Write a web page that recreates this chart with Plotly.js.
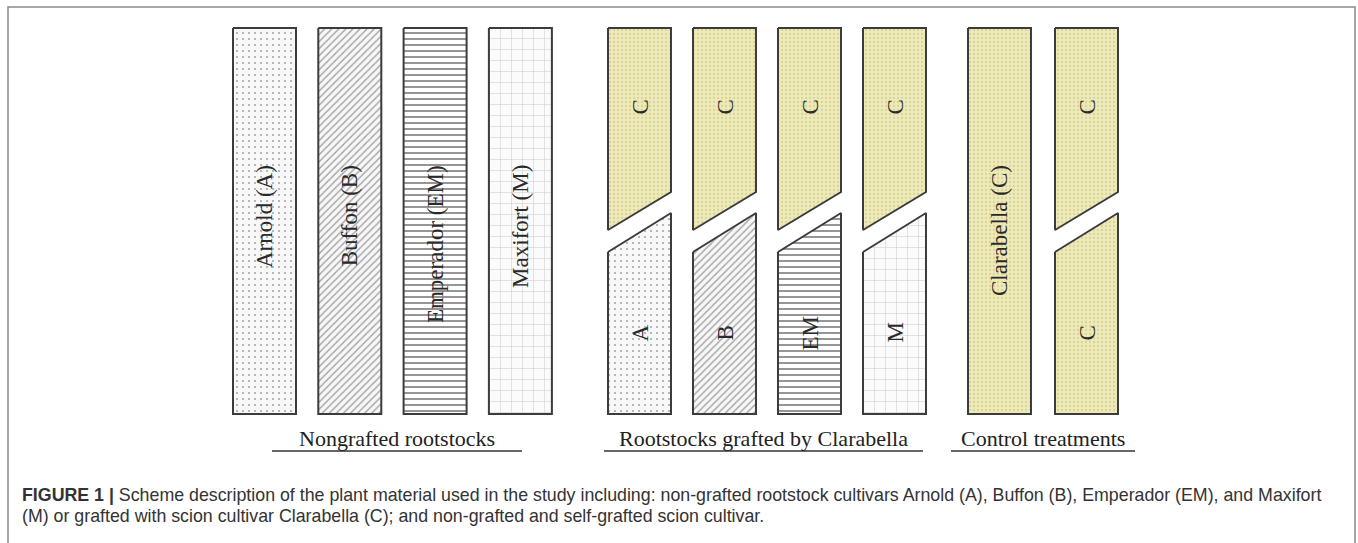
<!DOCTYPE html>
<html><head><meta charset="utf-8">
<script src="https://cdn.plot.ly/plotly-3.0.1.min.js"></script>
<style>html,body{margin:0;padding:0;background:#fff;overflow:hidden}#chart{width:1358px;height:543px}</style>
</head><body><div id="chart"></div>
<script>
// ---------- data ----------
const rootstockNames = ["Arnold (A)", "Buffon (B)", "Emperador (EM)", "Maxifort (M)"];
const rootstockCodes = ["A", "B", "EM", "M"];
const rootstockPatterns = [".", "/", "-", "+"];
const scionName = "Clarabella (C)";
const scionCode = "C";
const groupTitles = ["Nongrafted rootstocks", "Rootstocks grafted by Clarabella", "Control treatments"];
const captionLead = "FIGURE 1 |";
const captionLines = [
  "Scheme description of the plant material used in the study including: non-grafted rootstock cultivars Arnold (A), Buffon (B), Emperador (EM), and Maxifort",
  "(M) or grafted with scion cultivar Clarabella (C); and non-grafted and self-grafted scion cultivar."
];

// ---------- layout constants ----------
const W = 1358, H = 543;
const colW = 63, topY = 28, botY = 414;
const groupStart = [233, 608, 968], groupStep = [85.3, 85, 87];
const cutTopL = 230, cutTopR = 192, cutBotL = 252, cutBotR = 213;
const labelTopY = 163, upperCodeY = 107, lowerCodeY = 333;
const groupLabelY = 438, underlineY = 451;
const underlines = [[272, 522], [604, 923], [951, 1135]];
const outline = {color: "#3c3c3c", width: 2};
const serif = "Liberation Serif, Times New Roman, serif";
const sans = "Liberation Sans, Arial, sans-serif";

const patternStyle = {
  ".": {shape: ".", fgcolor: "#a8a8a8", bgcolor: "#f8f8f8", size: 6, solidity: 0.1},
  "/": {shape: "/", fgcolor: "#a2a2a2", bgcolor: "#f7f7f7", size: 5, solidity: 0.28},
  "-": {shape: "-", fgcolor: "#8a8a8a", bgcolor: "#ffffff", size: 6, solidity: 0.3},
  "+": {shape: "+", fgcolor: "#cdcdcd", bgcolor: "#fbfbfb", size: 11, solidity: 0.1}
};
const scionStyle = {shape: ".", fgcolor: "#d9d49c", bgcolor: "#efebb8", size: 4, solidity: 0.25};

const traces = [], annotations = [], shapes = [];

function poly(xs, ys, pat) {
  traces.push({
    type: "scatter", mode: "lines", x: xs, y: ys, fill: "toself",
    fillcolor: pat.bgcolor, fillpattern: Object.assign({fillmode: "replace"}, pat),
    line: outline, hoverinfo: "skip", showlegend: false
  });
}
function rect(L, pat) {
  const R = L + colW;
  poly([L, R, R, L, L], [topY, topY, botY, botY, topY], pat);
}
function upperPiece(L, pat) {
  const R = L + colW;
  poly([L, R, R, L, L], [topY, topY, cutTopR, cutTopL, topY], pat);
}
function lowerPiece(L, pat) {
  const R = L + colW;
  poly([L, R, R, L, L], [cutBotL, cutBotR, botY, botY, cutBotL], pat);
}
function vlabel(x, y, text, anchor) {
  annotations.push({x: x, y: y, xref: "x", yref: "y", text: text, showarrow: false,
    textangle: -90, xanchor: "center", yanchor: anchor,
    font: {family: serif, size: 23, color: "#2a2a2a"}});
}

// Group 1: nongrafted rootstocks
rootstockNames.forEach((name, i) => {
  const L = groupStart[0] + i * groupStep[0];
  rect(L, patternStyle[rootstockPatterns[i]]);
  vlabel(L + colW / 2, labelTopY, name, "top");
});
// Group 2: rootstocks grafted by Clarabella
rootstockCodes.forEach((code, i) => {
  const L = groupStart[1] + i * groupStep[1];
  upperPiece(L, scionStyle);
  lowerPiece(L, patternStyle[rootstockPatterns[i]]);
  vlabel(L + colW / 2, upperCodeY, scionCode, "middle");
  vlabel(L + colW / 2, lowerCodeY, code, "middle");
});
// Group 3: control treatments
{
  const L0 = groupStart[2];
  rect(L0, scionStyle);
  vlabel(L0 + colW / 2, labelTopY, scionName, "top");
  const L1 = groupStart[2] + groupStep[2];
  upperPiece(L1, scionStyle);
  lowerPiece(L1, scionStyle);
  vlabel(L1 + colW / 2, upperCodeY, scionCode, "middle");
  vlabel(L1 + colW / 2, lowerCodeY, scionCode, "middle");
}

// Group titles and underlines
groupTitles.forEach((t, i) => {
  const [a, b] = underlines[i];
  annotations.push({x: (a + b) / 2, y: groupLabelY, xref: "x", yref: "y", text: t, showarrow: false,
    xanchor: "center", yanchor: "middle", font: {family: serif, size: 22, color: "#222"}});
  shapes.push({type: "line", xref: "x", yref: "y", x0: a, x1: b, y0: underlineY, y1: underlineY,
    line: {color: "#333", width: 1.6}});
});

// Caption
annotations.push({x: 20, y: 495, xref: "x", yref: "y", xanchor: "left", yanchor: "middle", showarrow: false,
  text: "<b>" + captionLead + "</b> " + captionLines[0],
  font: {family: sans, size: 17.8, color: "#333"}});
annotations.push({x: 20, y: 516, xref: "x", yref: "y", xanchor: "left", yanchor: "middle", showarrow: false,
  text: captionLines[1],
  font: {family: sans, size: 17.8, color: "#333"}});

// Frame
shapes.push({type: "path", xref: "x", yref: "y",
  path: "M 8 560 L 8 7 L 1355 7 L 1355 560", line: {color: "#8a8a8a", width: 1.5}});

const layout = {
  width: W, height: H, margin: {l: 0, r: 0, t: 0, b: 0, pad: 0},
  paper_bgcolor: "#fff", plot_bgcolor: "#fff",
  xaxis: {range: [0, W], visible: false, fixedrange: true},
  yaxis: {range: [H, 0], visible: false, fixedrange: true},
  showlegend: false, annotations: annotations, shapes: shapes, hovermode: false
};
Plotly.newPlot("chart", traces, layout, {displayModeBar: false, staticPlot: true});
</script></body></html>
